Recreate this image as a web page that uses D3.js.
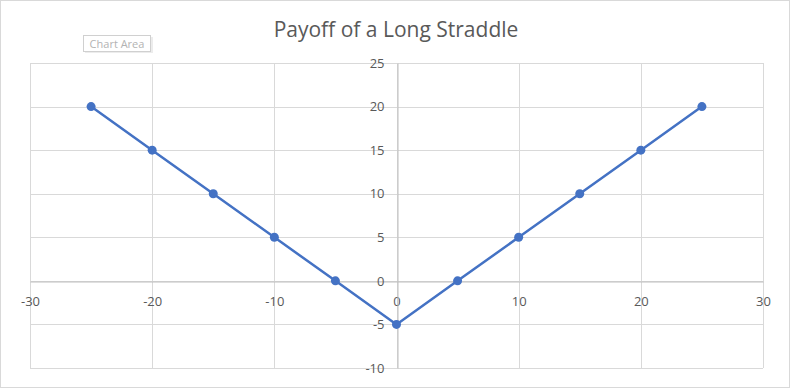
<!DOCTYPE html>
<html>
<head>
<meta charset="utf-8">
<script src="https://cdn.jsdelivr.net/npm/d3@7"></script>
<style>
  body { margin: 0; background: #fff; }
  text { font-family: "Open Sans", sans-serif; }
</style>
</head>
<body>
<div id="chart"></div>
<script>
var stock_price = [-25, -20, -15, -10, -5, 0, 5, 10, 15, 20, 25];
var payoff = [20, 15, 10, 5, 0, -5, 0, 5, 10, 15, 20];
var x_ticks = [-30, -20, -10, 0, 10, 20, 30];
var y_ticks = [-10, -5, 0, 5, 10, 15, 20, 25];
var title = "Payoff of a Long Straddle";

var width = 791, height = 389;

var svg = d3.select("#chart").append("svg")
    .attr("width", width)
    .attr("height", height);

// chart area border
svg.append("rect")
    .attr("x", 0.5).attr("y", 0.5)
    .attr("width", width - 2).attr("height", height - 2)
    .attr("fill", "#fff")
    .attr("stroke", "#d9d9d9");

var x = d3.scaleLinear().domain([-30, 30]).range([30, 763]);
var y = d3.scaleLinear().domain([-10, 25]).range([368, 63]);

// gridlines
svg.append("g").selectAll("line")
    .data(x_ticks)
    .enter().append("line")
    .attr("x1", function(d) { return Math.round(x(d)) + 0.5; })
    .attr("x2", function(d) { return Math.round(x(d)) + 0.5; })
    .attr("y1", y(25)).attr("y2", y(-10))
    .attr("stroke", "#d9d9d9");

svg.append("g").selectAll("line")
    .data(y_ticks)
    .enter().append("line")
    .attr("y1", function(d) { return Math.round(y(d)) + 0.5; })
    .attr("y2", function(d) { return Math.round(y(d)) + 0.5; })
    .attr("x1", x(-30)).attr("x2", x(30))
    .attr("stroke", "#d9d9d9");

// axes crossing at zero
var x0 = Math.round(x(0)) + 0.5, y0 = Math.round(y(0)) + 0.5;
var plain = function(d) { return String(d); };   // hyphen minus like Excel

var xAxis = svg.append("g")
    .attr("transform", "translate(0," + y0 + ")")
    .call(d3.axisBottom(x).tickValues(x_ticks).tickFormat(plain)
        .tickSize(0).tickPadding(15));
var yAxis = svg.append("g")
    .attr("transform", "translate(" + x0 + ",0)")
    .call(d3.axisLeft(y).tickValues(y_ticks).tickFormat(plain)
        .tickSize(0).tickPadding(13));

[xAxis, yAxis].forEach(function(a) {
    a.select(".domain").attr("stroke", "#bfbfbf");
    a.selectAll("text")
        .attr("fill", "#595959")
        .style("font-size", "13px")
        .style("font-family", "'Open Sans', sans-serif");
});

// series
var pts = stock_price.map(function(d, i) { return [d, payoff[i]]; });

svg.append("path")
    .datum(pts)
    .attr("fill", "none")
    .attr("stroke", "#4472c4")
    .attr("stroke-width", 2.5)
    .attr("stroke-linejoin", "round")
    .attr("d", d3.line()
        .x(function(d) { return x(d[0]); })
        .y(function(d) { return y(d[1]); }));

svg.append("g").selectAll("circle")
    .data(pts)
    .enter().append("circle")
    .attr("cx", function(d) { return x(d[0]); })
    .attr("cy", function(d) { return y(d[1]); })
    .attr("r", 4.5)
    .attr("fill", "#4472c4");

// title
svg.append("text")
    .attr("x", 396).attr("y", 37)
    .attr("text-anchor", "middle")
    .attr("fill", "#595959")
    .style("font-size", "21px")
    .text(title);

// "Chart Area" tooltip
var tip = svg.append("g").attr("transform", "translate(83,35)");
tip.append("rect")
    .attr("x", 2).attr("y", 2).attr("width", 68).attr("height", 16)
    .attr("fill", "#ececec");
tip.append("rect")
    .attr("x", 0.5).attr("y", 0.5).attr("width", 67).attr("height", 16)
    .attr("fill", "#fff").attr("stroke", "#d0d0d0");
tip.append("text")
    .attr("x", 34).attr("y", 12.5)
    .attr("text-anchor", "middle")
    .attr("fill", "#b3b3b3")
    .style("font-size", "11px")
    .text("Chart Area");
</script>
</body>
</html>
